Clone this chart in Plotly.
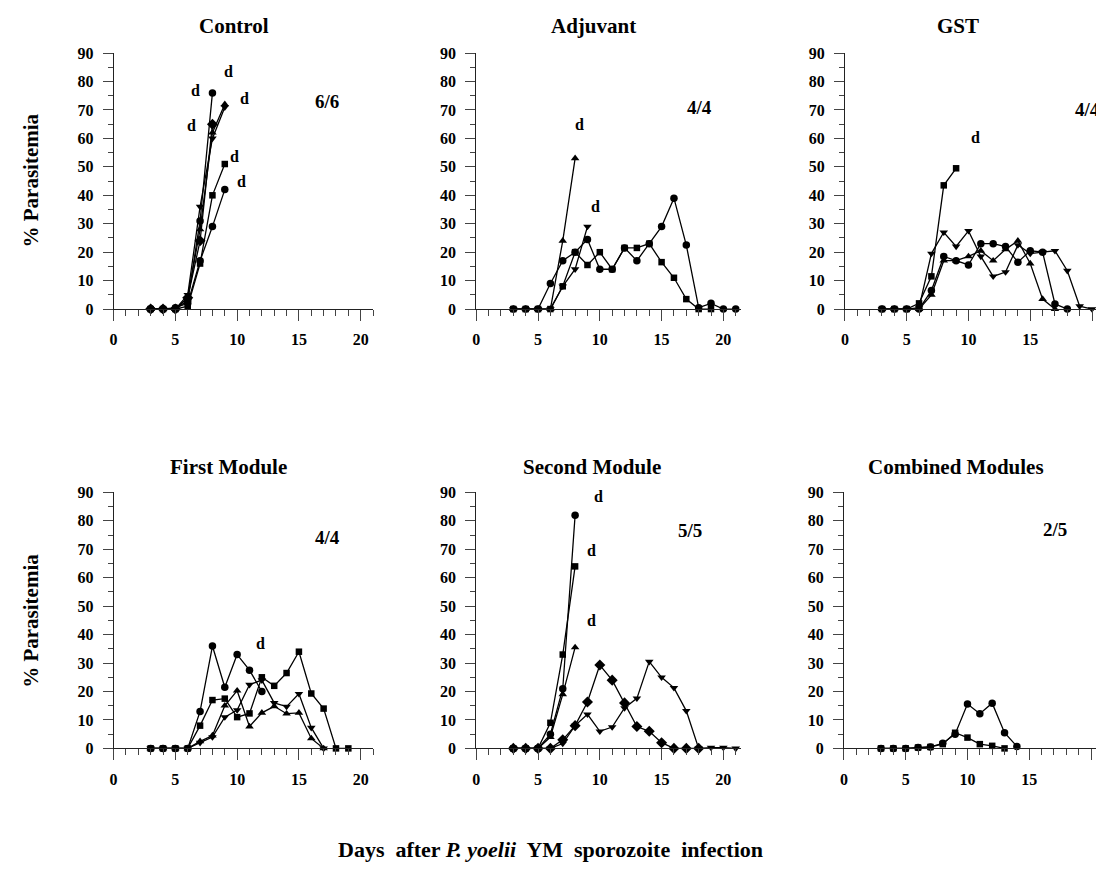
import plotly.graph_objects as go

# ---------------- data ----------------
DAYS = list(range(3, 22))

# Control (6/6)
ctrl_circle_a = [0, 0, 0, 3, 31, 76]
ctrl_diamond = [0, 0, 0, 4, 24, 65]
ctrl_tri_down = [0, 0, 0, 5, 36, 60, 71]
ctrl_tri_up = [0, 0, 0, 4, 28, 62, 72]
ctrl_square = [0, 0, 0, 1, 16, 40, 51]
ctrl_circle_b = [0, 0, 0.5, 2, 17, 29, 42]

# Adjuvant (4/4)
adj_tri_up = [0, 0, 0, 0, 24, 53]
adj_tri_down = [0, 0, 0, 0, 8, 14, 29]
adj_circle = [0, 0, 0, 9, 17, 20, 24.5, 14, 14, 21.5, 17, 23, 29, 39, 22.5, 0.5, 2, 0, 0]
adj_square = [0, 0, 0, 0, 8, 20, 15.5, 20, 14, 21.5, 21.5, 23, 16.5, 11, 3.5, 0, 0]

# GST (4/4)
gst_square = [0, 0, 0, 2, 11.5, 43.5, 49.5]
gst_tri_down = [0, 0, 0, 0.5, 19.5, 27, 22, 27.5, 18.5, 11.5, 13, 22.5, 19.5, 20, 20.5, 13.5, 1, 0]
gst_circle = [0, 0, 0, 0, 6.5, 18.5, 17, 15.5, 23, 23, 22, 16.5, 20.5, 20, 1.8, 0]
gst_tri_up = [0, 0, 0, 0, 5, 17, 17, 18.5, 20.5, 17, 21, 24, 16, 3.5, 0]

# First Module (4/4)
fm_circle = [0, 0, 0, 0, 13, 36, 21.5, 33, 27.5, 20]
fm_square = [0, 0, 0, 0, 8, 17, 17.5, 11, 12.3, 25, 22, 26.5, 34, 19.3, 14, 0, 0]
fm_tri_up = [0, 0, 0, 0, 2.5, 4.5, 15, 20.3, 7.7, 12.5, 14.8, 12.2, 12.5, 3.5, 0]
fm_tri_down = [0, 0, 0, 0, 2, 4, 11, 13.5, 22.4, 24, 16, 14.7, 19.2, 7.3, 0]

# Second Module (5/5)
sm_circle = [0, 0, 0, 5, 21, 82]
sm_square = [0, 0, 0, 9, 33, 64]
sm_tri_up = [0, 0, 0, 4, 19, 35.5]
sm_diamond = [0, 0, 0, 0, 3, 8, 16.3, 29.3, 24, 16, 7.7, 6, 2, 0, 0, 0]
sm_tri_down = [0, 0, 0, 0, 1.7, 8, 12, 6, 7.5, 14.2, 17.6, 30.5, 25, 21.3, 13.2, 0, 0.3, 0.3, 0]

# Combined Modules (2/5)
cm_circle = [0, 0, 0, 0.3, 0.5, 1.8, 5, 15.6, 12.2, 15.9, 5.5, 0.7]
cm_square = [0, 0, 0, 0.3, 0.5, 1.5, 5.5, 3.8, 1.5, 0.9, 0]

PANEL_TITLES = ["Control", "Adjuvant", "GST", "First Module", "Second Module", "Combined Modules"]
PANEL_RATIOS = ["6/6", "4/4", "4/4", "4/4", "5/5", "2/5"]
RATIO_POS = [(17.3, 73), (18.1, 71), (19.6, 70), (17.3, 74), (17.3, 76.5), (17.1, 77)]
DEATH_MARKS = [
    [(9.27, 83.4), (6.6, 77), (10.6, 74), (6.3, 64.7), (9.8, 53.5), (10.35, 45)],
    [(8.33, 64.8), (9.68, 36)],
    [(10.6, 60.5)],
    [(11.9, 37)],
    [(9.9, 88.6), (9.3, 69.6), (9.3, 44.9)],
    [],
]
X_TICKS = [0, 5, 10, 15, 20]
Y_TICKS = [0, 10, 20, 30, 40, 50, 60, 70, 80, 90]

panels = [
    [(ctrl_circle_a, "circle"), (ctrl_diamond, "diamond"), (ctrl_tri_down, "triangle-down"),
     (ctrl_tri_up, "triangle-up"), (ctrl_square, "square"), (ctrl_circle_b, "circle")],
    [(adj_tri_up, "triangle-up"), (adj_tri_down, "triangle-down"), (adj_circle, "circle"), (adj_square, "square")],
    [(gst_square, "square"), (gst_tri_down, "triangle-down"), (gst_circle, "circle"), (gst_tri_up, "triangle-up")],
    [(fm_circle, "circle"), (fm_square, "square"), (fm_tri_up, "triangle-up"), (fm_tri_down, "triangle-down")],
    [(sm_circle, "circle"), (sm_square, "square"), (sm_tri_up, "triangle-up"), (sm_diamond, "diamond"),
     (sm_tri_down, "triangle-down")],
    [(cm_circle, "circle"), (cm_square, "square")],
]

# ---------------- layout geometry (pixels) ----------------
W, H = 1096, 879
PX_PER_DAY = 12.4
col_left = [[110, 474, 844], [110, 474, 843]]
col_xmax = [[21.0, 21.4, None], [21.0, 21.4, None]]
row_y = [(307, 46), (755, 494)]  # (pixel of 0, pixel of 90)
title_y = [18, 468]
title_x = [[231, 592, 957], [225, 590, 955]]

MARKER_SIZE = {"circle": 7.5, "square": 6.5, "diamond": 8.5, "triangle-up": 7.5, "triangle-down": 7.5}

fig = go.Figure()
FONT = "Liberation Serif"
annotations = []

for i in range(6):
    r, c = divmod(i, 3)
    n = i + 1
    xa = "x" if n == 1 else f"x{n}"
    ya = "y" if n == 1 else f"y{n}"
    left = col_left[r][c]
    xmax = col_xmax[r][c]
    if xmax is None:
        xmax = (W - left) / PX_PER_DAY
    right = left + xmax * PX_PER_DAY
    y0, y90 = row_y[r]
    xdom = [left / W, min(right / W, 1.0)]
    ydom = [1 - y0 / H, 1 - y90 / H]

    axis_common = dict(showgrid=False, zeroline=False, showline=True, linecolor="#222",
                       linewidth=1, ticks="outside", tickcolor="#444", tickwidth=1,
                       tickfont=dict(family=FONT, size=16, color="black", weight="bold"))
    fig.layout[f"xaxis{'' if n == 1 else n}"] = dict(
        domain=xdom, range=[0, xmax], anchor=ya, tickmode="array", tickvals=X_TICKS,
        ticklen=11, ticklabelstandoff=5,
        minor=dict(dtick=1, tick0=0, ticklen=6, ticks="outside", tickcolor="#444", tickwidth=1),
        **axis_common)
    fig.layout[f"yaxis{'' if n == 1 else n}"] = dict(
        domain=ydom, range=[0, 90], anchor=xa, tickmode="array", tickvals=Y_TICKS,
        ticklen=10, ticklabelstandoff=6,
        minor=dict(dtick=5, tick0=0, ticklen=5, ticks="outside", tickcolor="#444", tickwidth=1),
        **axis_common)

    for vals, sym in panels[i]:
        fig.add_trace(go.Scatter(
            x=DAYS[:len(vals)], y=vals, xaxis=xa, yaxis=ya, mode="lines+markers",
            line=dict(color="black", width=1.3),
            marker=dict(symbol=sym, size=MARKER_SIZE[sym], color="black"),
            cliponaxis=False, showlegend=False))

    annotations.append(dict(text=f"<b>{PANEL_TITLES[i]}</b>", xref="paper", yref="paper",
                            x=title_x[r][c] / W, y=1 - title_y[r] / H, xanchor="center",
                            yanchor="middle", showarrow=False,
                            font=dict(family=FONT, size=21, color="black")))
    rx, ry = RATIO_POS[i]
    annotations.append(dict(text=f"<b>{PANEL_RATIOS[i]}</b>", xref=xa, yref=ya, x=rx, y=ry,
                            showarrow=False, font=dict(family=FONT, size=19, color="black")))
    for dx, dy in DEATH_MARKS[i]:
        annotations.append(dict(text="<b>d</b>", xref=xa, yref=ya, x=dx, y=dy, showarrow=False,
                                font=dict(family=FONT, size=16, color="black")))

for yc in [176, 625]:
    annotations.append(dict(text="<b>% Parasitemia</b>", xref="paper", yref="paper",
                            x=27 / W, y=1 - yc / H, xanchor="center", yanchor="middle",
                            textangle=-90, showarrow=False,
                            font=dict(family=FONT, size=21, color="black")))

annotations.append(dict(text="<b>Days  after <i>P. yoelii</i>  YM  sporozoite  infection</b>",
                        xref="paper", yref="paper", x=548 / W, y=1 - 858 / H,
                        xanchor="center", yanchor="middle", showarrow=False,
                        font=dict(family=FONT, size=22, color="black")))

fig.update_layout(width=W, height=H, margin=dict(l=0, r=0, t=0, b=0, pad=0),
                  plot_bgcolor="white", paper_bgcolor="white", showlegend=False,
                  annotations=annotations)

fig.write_html("out.html", config={"displayModeBar": False},
               post_script="document.body.style.margin='0';")
